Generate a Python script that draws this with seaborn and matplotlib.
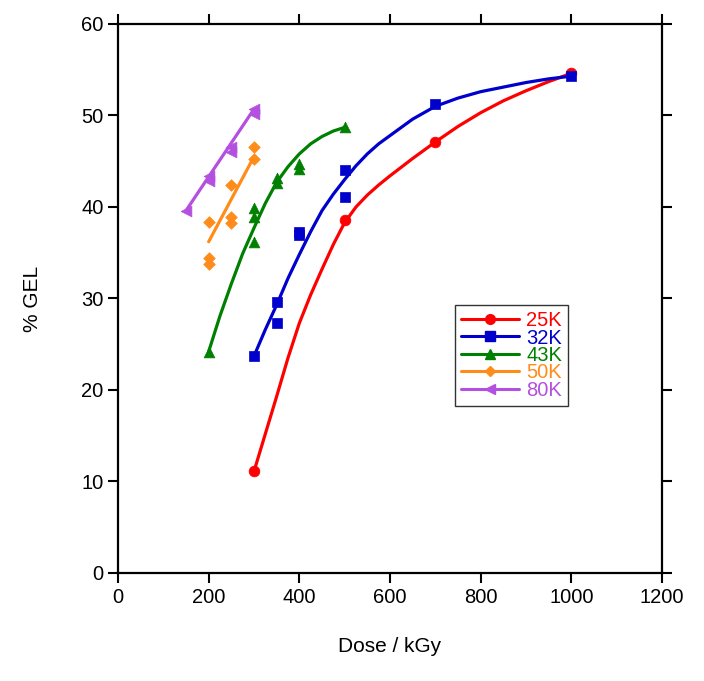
import numpy as np
import pandas as pd
import seaborn as sns
import matplotlib.pyplot as plt
from matplotlib.lines import Line2D

# measured points (dose in kGy, % gel)
dose_25k = [300, 500, 700, 1000]
gel_25k = [11.1, 38.6, 47.1, 54.6]
dose_32k = [300, 350, 350, 400, 400, 500, 500, 700, 1000]
gel_32k = [23.7, 29.6, 27.3, 37.3, 36.9, 44.0, 41.1, 51.3, 54.3]
dose_43k = [200, 300, 300, 300, 350, 350, 400, 400, 500]
gel_43k = [24.2, 39.9, 38.9, 36.2, 43.2, 42.6, 44.7, 44.1, 48.7]
dose_50k = [200, 200, 200, 250, 250, 250, 300, 300]
gel_50k = [38.4, 34.4, 33.8, 42.4, 38.9, 38.2, 46.6, 45.2]
dose_80k = [150, 200, 200, 250, 250, 300, 300]
gel_80k = [39.6, 43.4, 42.8, 46.6, 46.0, 50.7, 50.2]

# fitted curves
fit_dose_25k = [300, 325, 350, 375, 400, 425, 450, 475, 500, 525, 550, 575, 600,
                650, 700, 750, 800, 850, 900, 950, 1000]
fit_gel_25k = [11.1, 15.2, 19.3, 23.5, 27.3, 30.4, 33.2, 35.9, 38.3, 40.0, 41.3,
               42.4, 43.4, 45.3, 47.1, 48.8, 50.3, 51.6, 52.7, 53.7, 54.6]
fit_dose_32k = [300, 325, 350, 375, 400, 425, 450, 475, 500, 525, 550, 575, 600,
                650, 700, 750, 800, 850, 900, 950, 1000]
fit_gel_32k = [23.7, 26.6, 29.3, 32.2, 34.8, 37.3, 39.6, 41.4, 43.0, 44.5, 45.8,
               46.9, 47.8, 49.6, 51.0, 51.9, 52.6, 53.1, 53.6, 54.0, 54.3]
fit_dose_43k = [200, 225, 250, 275, 300, 325, 350, 375, 400, 425, 450, 475, 500]
fit_gel_43k = [24.2, 28.1, 31.6, 34.9, 37.7, 40.4, 42.7, 44.4, 45.8, 46.9, 47.7,
               48.3, 48.7]
fit_dose_50k = [200, 300]
fit_gel_50k = [36.2, 45.5]
fit_dose_80k = [150, 300]
fit_gel_80k = [39.6, 50.7]

labels = ['25K', '32K', '43K', '50K', '80K']
colors = ['#FF0000', '#0000CC', '#008000', '#FF8C1A', '#B450E0']
markers = ['o', 's', '^', 'D', '<']
msizes = [60, 60, 60, 35, 60]

points = [(dose_25k, gel_25k), (dose_32k, gel_32k), (dose_43k, gel_43k),
          (dose_50k, gel_50k), (dose_80k, gel_80k)]
fits = [(fit_dose_25k, fit_gel_25k), (fit_dose_32k, fit_gel_32k),
        (fit_dose_43k, fit_gel_43k), (fit_dose_50k, fit_gel_50k),
        (fit_dose_80k, fit_gel_80k)]

sns.set_theme(style="ticks")
plt.rcParams['font.family'] = ['Liberation Sans', 'DejaVu Sans']
plt.rcParams['text.color'] = 'black'
plt.rcParams['axes.labelcolor'] = 'black'

fig = plt.figure(figsize=(7.04, 6.81), dpi=100)
ax = fig.add_axes([0.1676, 0.1586, 0.7727, 0.8062])

for lab, col, mk, ms, (dx, gy), (fx, fy) in zip(labels, colors, markers, msizes, points, fits):
    fit_df = pd.DataFrame({'dose': fx, 'gel': fy})
    pts_df = pd.DataFrame({'dose': dx, 'gel': gy})
    sns.lineplot(data=fit_df, x='dose', y='gel', color=col, linewidth=2.3,
                 sort=True, estimator=None, ax=ax, legend=False)
    sns.scatterplot(data=pts_df, x='dose', y='gel', color=col, marker=mk,
                    s=ms, edgecolor=col, linewidth=0.5, ax=ax, legend=False, zorder=3)

ax.set_xlim(0, 1200)
ax.set_ylim(0, 60)
ax.set_xticks(np.arange(0, 1201, 200))
ax.set_yticks(np.arange(0, 61, 10))
ax.tick_params(axis='both', which='both', direction='out', length=7, width=1.5,
               labelsize=14.5, colors='black', top=True, right=True,
               labeltop=False, labelright=False)
for sp in ax.spines.values():
    sp.set_visible(True)
    sp.set_linewidth(1.6)
    sp.set_color('black')

ax.set_xlabel('Dose / kGy', fontsize=15, labelpad=22)
ax.set_ylabel('% GEL', fontsize=15, labelpad=28)

handles = [Line2D([0], [0], color=c, marker=m, markersize=7 if m != 'D' else 5,
                  linewidth=2.2) for c, m in zip(colors, markers)]
leg = ax.legend(handles, labels, loc='upper left', bbox_to_anchor=(0.619, 0.488),
                borderaxespad=0, fontsize=14.5, frameon=True, fancybox=False,
                edgecolor='black', handlelength=2.9, handletextpad=0.35,
                labelspacing=-0.08, borderpad=0.3)
leg.get_frame().set_linewidth(1.0)
for txt, c in zip(leg.get_texts(), colors):
    txt.set_color(c)

fig.savefig('out.png', dpi=100)
